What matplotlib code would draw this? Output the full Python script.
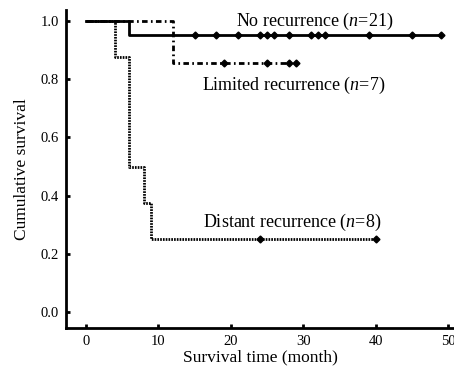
import numpy as np
import matplotlib.pyplot as plt

plt.rcParams['font.family'] = ['Liberation Serif', 'DejaVu Serif']
plt.rcParams['mathtext.fontset'] = 'custom'
plt.rcParams['mathtext.rm'] = 'Liberation Serif'
plt.rcParams['mathtext.it'] = 'Liberation Serif:italic'

# Kaplan-Meier step curves (time, survival after step)
no_rec_t = [0, 6, 49]
no_rec_s = [1.0, 20 / 21, 20 / 21]
no_rec_cens = [15, 18, 21, 24, 25, 26, 28, 31, 32, 33, 39, 45, 49]

lim_t = [0, 12, 29]
lim_s = [1.0, 6 / 7, 6 / 7]
lim_cens = [19, 25, 28, 29]

dist_t = [0, 4, 6, 8, 9, 40]
dist_s = [1.0, 0.875, 0.5, 0.375, 0.25, 0.25]
dist_cens = [24, 40]


def surv_at(t, times, surv):
    idx = np.searchsorted(times, t, side='right') - 1
    return np.array(surv)[idx]


fig = plt.figure(figsize=(4.54, 3.71), dpi=100)
ax = fig.add_axes([0.1454, 0.116, 0.8546, 0.857])

ax.step(no_rec_t, no_rec_s, where='post', color='black', lw=2, linestyle='-')
ax.plot(no_rec_cens, surv_at(no_rec_cens, no_rec_t, no_rec_s), 'D', color='black', ms=3.5)

ax.step(lim_t, lim_s, where='post', color='black', lw=2, linestyle=(0, (2, 1.2, 0.6, 1.2)))
ax.plot(lim_cens, surv_at(lim_cens, lim_t, lim_s), 'D', color='black', ms=3.5)

ax.step(dist_t, dist_s, where='post', color='black', lw=2, linestyle=(0, (0.6, 0.4)))
ax.plot(dist_cens, surv_at(dist_cens, dist_t, dist_s), 'D', color='black', ms=3.5)

ax.text(31.6, 1.0, 'No recurrence ($n$=21)', ha='center', va='center', fontsize=13)
ax.text(28.7, 0.78, 'Limited recurrence ($n$=7)', ha='center', va='center', fontsize=13)
ax.text(28.5, 0.308, 'Distant recurrence ($n$=8)', ha='center', va='center', fontsize=13)

ax.set_xlim(-2.76, 50.8)
ax.set_ylim(-0.055, 1.038)
ax.set_xticks([0, 10, 20, 30, 40, 50])
ax.set_yticks([0.0, 0.2, 0.4, 0.6, 0.8, 1.0])
ax.set_yticklabels(['0.0', '0.2', '0.4', '0.6', '0.8', '1.0'])
ax.tick_params(direction='in', length=3, width=2, labelsize=10.5, pad=5)
ax.set_xlabel('Survival time (month)', fontsize=12.5, labelpad=1)
ax.set_ylabel('Cumulative survival', fontsize=12.5, labelpad=8)
for s in ['top', 'right']:
    ax.spines[s].set_visible(False)
for s in ['left', 'bottom']:
    ax.spines[s].set_linewidth(2)

fig.savefig('out.png', dpi=100)
